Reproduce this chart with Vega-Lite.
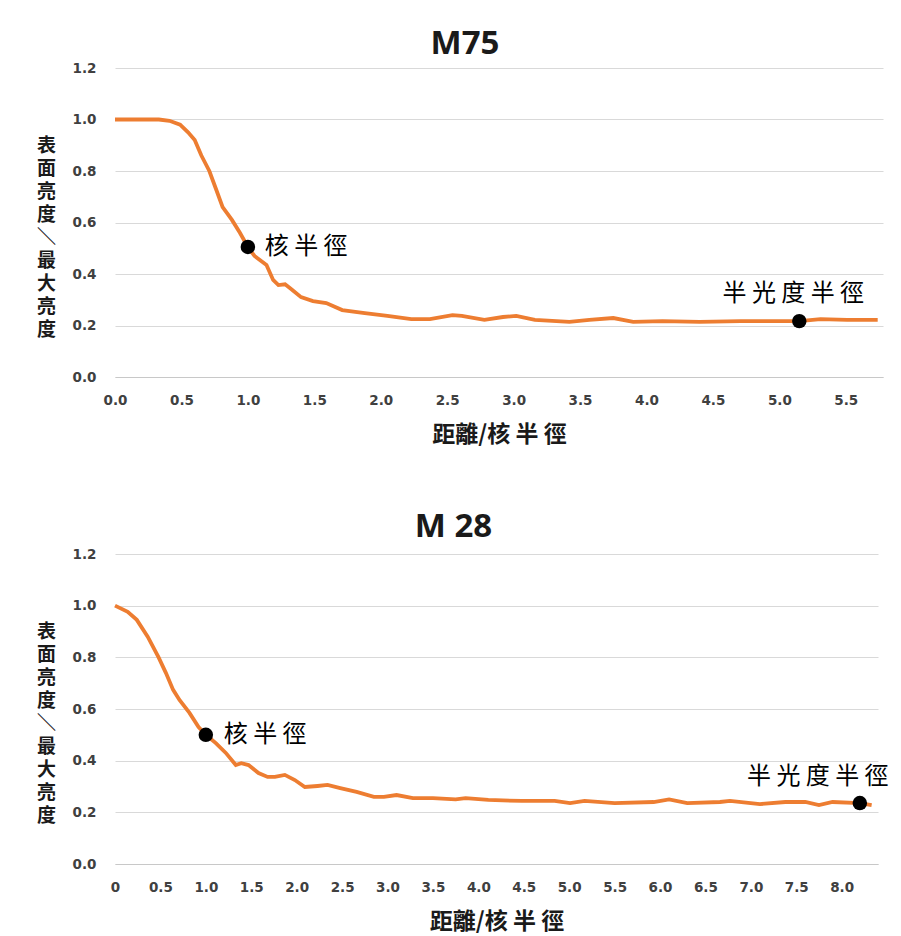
{
  "$schema": "https://vega.github.io/schema/vega-lite/v6.json",
  "background": "white",
  "padding": {"top": 28, "left": 36, "right": 5, "bottom": 5},
  "bounds": "flush",
  "spacing": 177,
  "config": {
    "view": {"stroke": null},
    "font": "DejaVu Sans",
    "title": {"font": "Open Sans", "fontSize": 33, "fontWeight": "bold", "color": "#1a1a1a", "anchor": "middle", "baseline": "alphabetic"},
    "axis": {"labelFont": "DejaVu Sans", "labelFontWeight": "bold", "labelFontSize": 13.5, "labelColor": "#404040", "ticks": false, "domain": false, "gridColor": "#d9d9d9", "titleFont": "Noto Sans CJK TC", "titleFontWeight": "bold", "titleColor": "#1a1a1a", "labelFlush": false, "labelOverlap": false},
    "axisX": {"grid": false, "domain": true, "domainColor": "#c8c8c8", "labelPadding": 16, "titleFontSize": 23, "titlePadding": 17},
    "axisY": {"grid": true, "labelPadding": 19, "titleAngle": 0, "titleFontSize": 19, "titleLineHeight": 23, "titleX": -69, "titleY": 77, "titleAlign": "center", "titleBaseline": "middle"}
  },
  "datasets": {
    "m75": [
      {"x": 0, "y": 1.0}, {"x": 0.17, "y": 1.0}, {"x": 0.33, "y": 1.0}, {"x": 0.41, "y": 0.995}, {"x": 0.49, "y": 0.98},
      {"x": 0.55, "y": 0.95}, {"x": 0.60, "y": 0.92}, {"x": 0.65, "y": 0.86}, {"x": 0.71, "y": 0.80}, {"x": 0.76, "y": 0.73},
      {"x": 0.81, "y": 0.66}, {"x": 0.88, "y": 0.61}, {"x": 0.94, "y": 0.56}, {"x": 1.0, "y": 0.505}, {"x": 1.05, "y": 0.47},
      {"x": 1.14, "y": 0.435}, {"x": 1.19, "y": 0.377}, {"x": 1.23, "y": 0.357}, {"x": 1.28, "y": 0.36}, {"x": 1.33, "y": 0.34},
      {"x": 1.40, "y": 0.31}, {"x": 1.49, "y": 0.295}, {"x": 1.59, "y": 0.287}, {"x": 1.71, "y": 0.26}, {"x": 1.88, "y": 0.248},
      {"x": 2.05, "y": 0.237}, {"x": 2.23, "y": 0.225}, {"x": 2.37, "y": 0.225}, {"x": 2.54, "y": 0.24}, {"x": 2.61, "y": 0.237},
      {"x": 2.78, "y": 0.222}, {"x": 2.92, "y": 0.233}, {"x": 3.02, "y": 0.237}, {"x": 3.16, "y": 0.222}, {"x": 3.42, "y": 0.214},
      {"x": 3.57, "y": 0.222}, {"x": 3.75, "y": 0.229}, {"x": 3.90, "y": 0.214}, {"x": 4.12, "y": 0.217}, {"x": 4.40, "y": 0.214},
      {"x": 4.71, "y": 0.217}, {"x": 4.95, "y": 0.217}, {"x": 5.15, "y": 0.217}, {"x": 5.31, "y": 0.225}, {"x": 5.51, "y": 0.222},
      {"x": 5.74, "y": 0.222}
    ],
    "m75pts": [
      {"x": 1.0, "y": 0.505, "kind": "core", "label": "核 半 徑"},
      {"x": 5.15, "y": 0.217, "kind": "half", "label": "半 光 度 半 徑"}
    ],
    "m28": [
      {"x": 0, "y": 1.0}, {"x": 0.14, "y": 0.976}, {"x": 0.24, "y": 0.945}, {"x": 0.36, "y": 0.88}, {"x": 0.48, "y": 0.80},
      {"x": 0.56, "y": 0.74}, {"x": 0.64, "y": 0.674}, {"x": 0.71, "y": 0.635}, {"x": 0.82, "y": 0.585}, {"x": 0.92, "y": 0.53},
      {"x": 1.0, "y": 0.5}, {"x": 1.11, "y": 0.468}, {"x": 1.22, "y": 0.43}, {"x": 1.33, "y": 0.383}, {"x": 1.39, "y": 0.39},
      {"x": 1.47, "y": 0.383}, {"x": 1.58, "y": 0.352}, {"x": 1.68, "y": 0.337}, {"x": 1.76, "y": 0.337}, {"x": 1.87, "y": 0.345},
      {"x": 1.98, "y": 0.325}, {"x": 2.09, "y": 0.298}, {"x": 2.23, "y": 0.302}, {"x": 2.34, "y": 0.306}, {"x": 2.48, "y": 0.294},
      {"x": 2.66, "y": 0.279}, {"x": 2.85, "y": 0.26}, {"x": 2.96, "y": 0.26}, {"x": 3.10, "y": 0.267}, {"x": 3.28, "y": 0.255},
      {"x": 3.50, "y": 0.255}, {"x": 3.75, "y": 0.25}, {"x": 3.86, "y": 0.255}, {"x": 4.11, "y": 0.248}, {"x": 4.48, "y": 0.244},
      {"x": 4.84, "y": 0.244}, {"x": 5.01, "y": 0.236}, {"x": 5.17, "y": 0.244}, {"x": 5.50, "y": 0.236}, {"x": 5.93, "y": 0.24},
      {"x": 6.10, "y": 0.25}, {"x": 6.30, "y": 0.236}, {"x": 6.66, "y": 0.24}, {"x": 6.77, "y": 0.244}, {"x": 7.10, "y": 0.232},
      {"x": 7.38, "y": 0.24}, {"x": 7.60, "y": 0.24}, {"x": 7.75, "y": 0.228}, {"x": 7.90, "y": 0.24}, {"x": 8.20, "y": 0.236},
      {"x": 8.33, "y": 0.228}
    ],
    "m28pts": [
      {"x": 1.0, "y": 0.5, "kind": "core", "label": "核 半 徑"},
      {"x": 8.2, "y": 0.236, "kind": "half", "label": "半 光 度 半 徑"}
    ]
  },
  "vconcat": [
    {
      "width": 768,
      "height": 309,
      "title": {"text": "M75", "dx": -34, "offset": 0},
      "encoding": {
        "x": {"field": "x", "type": "quantitative", "scale": {"domain": [0, 5.78], "nice": false, "zero": false},
          "axis": {"values": [0, 0.5, 1, 1.5, 2, 2.5, 3, 3.5, 4, 4.5, 5, 5.5], "format": ".1f", "title": "距離/核 半 徑"}},
        "y": {"field": "y", "type": "quantitative", "scale": {"domain": [0, 1.2], "nice": false},
          "axis": {"values": [0, 0.2, 0.4, 0.6, 0.8, 1.0, 1.2], "format": ".1f", "title": ["表", "面", "亮", "度", "＼", "最", "大", "亮", "度"]}}
      },
      "layer": [
        {"data": {"name": "m75"}, "mark": {"type": "line", "color": "#ED7D31", "strokeWidth": 3.8}},
        {"data": {"name": "m75pts"}, "mark": {"type": "circle", "size": 210, "color": "black", "opacity": 1}},
        {"data": {"name": "m75pts"}, "transform": [{"filter": "datum.kind == 'core'"}],
          "mark": {"type": "text", "align": "left", "baseline": "middle", "dx": 17, "font": "Noto Sans CJK TC", "fontSize": 24, "color": "black"},
          "encoding": {"text": {"field": "label"}}},
        {"data": {"name": "m75pts"}, "transform": [{"filter": "datum.kind == 'half'"}],
          "mark": {"type": "text", "align": "center", "baseline": "middle", "dx": -6, "dy": -27, "font": "Noto Sans CJK TC", "fontSize": 24, "color": "black"},
          "encoding": {"text": {"field": "label"}}}
      ]
    },
    {
      "width": 763,
      "height": 310,
      "title": {"text": "M 28", "dx": -43, "offset": 3},
      "encoding": {
        "x": {"field": "x", "type": "quantitative", "scale": {"domain": [0, 8.4], "nice": false, "zero": false},
          "axis": {"values": [0, 0.5, 1, 1.5, 2, 2.5, 3, 3.5, 4, 4.5, 5, 5.5, 6, 6.5, 7, 7.5, 8], "labelExpr": "datum.value == 0 ? '0' : format(datum.value, '.1f')", "title": "距離/核 半 徑"}},
        "y": {"field": "y", "type": "quantitative", "scale": {"domain": [0, 1.2], "nice": false},
          "axis": {"values": [0, 0.2, 0.4, 0.6, 0.8, 1.0, 1.2], "format": ".1f", "title": ["表", "面", "亮", "度", "＼", "最", "大", "亮", "度"]}}
      },
      "layer": [
        {"data": {"name": "m28"}, "mark": {"type": "line", "color": "#ED7D31", "strokeWidth": 3.8}},
        {"data": {"name": "m28pts"}, "mark": {"type": "circle", "size": 210, "color": "black", "opacity": 1}},
        {"data": {"name": "m28pts"}, "transform": [{"filter": "datum.kind == 'core'"}],
          "mark": {"type": "text", "align": "left", "baseline": "middle", "dx": 18, "font": "Noto Sans CJK TC", "fontSize": 24, "color": "black"},
          "encoding": {"text": {"field": "label"}}},
        {"data": {"name": "m28pts"}, "transform": [{"filter": "datum.kind == 'half'"}],
          "mark": {"type": "text", "align": "center", "baseline": "middle", "dx": -42, "dy": -26, "font": "Noto Sans CJK TC", "fontSize": 24, "color": "black"},
          "encoding": {"text": {"field": "label"}}}
      ]
    }
  ]
}
